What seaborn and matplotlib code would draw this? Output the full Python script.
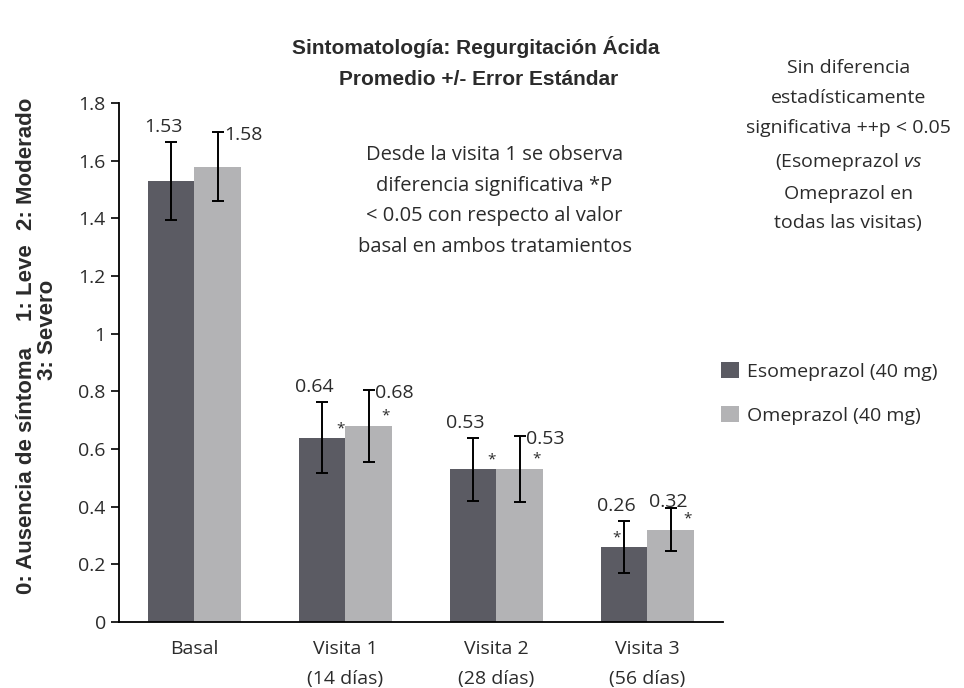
import pandas as pd
import matplotlib.pyplot as plt
import seaborn as sns
from matplotlib.ticker import FixedLocator, FuncFormatter

# Datos
visitas = ["Basal", "Visita 1\n(14 días)", "Visita 2\n(28 días)", "Visita 3\n(56 días)"]
tratamientos = ["Esomeprazol (40 mg)", "Omeprazol (40 mg)"]
esomeprazol = [1.53, 0.64, 0.53, 0.26]
omeprazol = [1.58, 0.68, 0.53, 0.32]
err_esomeprazol = [0.135, 0.123, 0.11, 0.09]
err_omeprazol = [0.12, 0.125, 0.115, 0.075]
significativo = [False, True, True, True]

df = pd.DataFrame({
    "Visita": visitas * 2,
    "Tratamiento": [tratamientos[0]] * 4 + [tratamientos[1]] * 4,
    "Valor": esomeprazol + omeprazol,
})

sns.set_style("white")
plt.rcParams["font.family"] = ["Open Sans", "DejaVu Sans"]
plt.rcParams["mathtext.fontset"] = "custom"
plt.rcParams["mathtext.it"] = "Open Sans:italic"
plt.rcParams["mathtext.rm"] = "Open Sans"
color_txt = "#2b2b2b"
colores = ["#5b5b63", "#b3b3b5"]
fs = 14

fig = plt.figure(figsize=(9.64, 6.88), dpi=100)
ax = fig.add_axes([0.1234, 0.096, 0.6266, 0.754])

sns.barplot(data=df, x="Visita", y="Valor", hue="Tratamiento", palette=colores,
            errorbar=None, width=0.62, saturation=1, linewidth=0, ax=ax, legend=True)

errores = [err_esomeprazol, err_omeprazol]
valores = [esomeprazol, omeprazol]
contenedores = list(ax.containers)
for k, cont in enumerate(contenedores):
    for i, bar in enumerate(cont.patches):
        xc = bar.get_x() + bar.get_width() / 2
        v = valores[k][i]
        e = errores[k][i]
        ax.errorbar(xc, v, yerr=e, fmt="none", ecolor="black", elinewidth=1.4,
                    capsize=4, capthick=1.4)
        if k == 0:
            ax.text(xc - 0.05, v + e + 0.02, f"{v:.2f}", ha="center", va="bottom",
                    fontsize=fs, color=color_txt)
            if significativo[i]:
                dx = 0.12 if i < 3 else -0.05
                ax.text(xc + dx, v + 0.005, "*", ha="center", va="bottom",
                        fontsize=11, color=color_txt)
        else:
            if i < 3:
                ax.text(xc + 0.04, v + e - 0.01, f"{v:.2f}", ha="left", va="center",
                        fontsize=fs, color=color_txt)
            else:
                ax.text(xc - 0.02, v + e - 0.01, f"{v:.2f}", ha="center", va="bottom",
                        fontsize=fs, color=color_txt)
            if significativo[i]:
                ax.text(xc + 0.11, v + 0.01, "*", ha="center", va="bottom",
                        fontsize=11, color=color_txt)

ax.set_xlim(-0.5, 3.5)
ax.set_ylim(0, 1.8)
ax.yaxis.set_major_locator(FixedLocator([0, 0.2, 0.4, 0.6, 0.8, 1, 1.2, 1.4, 1.6, 1.8]))
ax.yaxis.set_major_formatter(FuncFormatter(lambda y, p: f"{y:g}"))
ax.xaxis.set_minor_locator(FixedLocator([-0.5, 0.5, 1.5, 2.5, 3.5]))
ax.tick_params(axis="x", which="major", length=0, pad=13, labelsize=fs, labelcolor=color_txt)
ax.tick_params(axis="x", which="minor", length=6, width=1.2, direction="out", color="black")
ax.tick_params(axis="y", length=6, width=1.2, direction="out", left=True, labelsize=fs,
               labelcolor=color_txt, color="black")
for t in ax.get_xticklabels():
    t.set_linespacing(1.85)
    t.set_verticalalignment("top")
ax.set_xlabel("")
ax.set_ylabel("")
sns.despine(ax=ax)
for s in ["left", "bottom"]:
    ax.spines[s].set_color("black")
    ax.spines[s].set_linewidth(1.3)

ax.legend(loc="center left", bbox_to_anchor=(0.968, 0.44), frameon=False, fontsize=fs,
          handlelength=0.9, handleheight=0.9, handletextpad=0.45, labelspacing=1.3,
          labelcolor=color_txt)

# Títulos y ejes
titulo = ["Liberation Sans", "DejaVu Sans"]
fig.text(0.493, 0.932, "Sintomatología: Regurgitación Ácida", ha="center", va="center",
         fontsize=15, fontweight="bold", color=color_txt, family=titulo)
fig.text(0.497, 0.884, "Promedio +/- Error Estándar", ha="center", va="center",
         fontsize=15, fontweight="bold", color=color_txt, family=titulo)
fig.text(0.027, 1 - 470 / 688, "0: Ausencia de síntoma", rotation=90, ha="center", va="center",
         fontsize=16, fontweight="bold", color=color_txt, family=titulo)
fig.text(0.027, 1 - 283 / 688, "1: Leve", rotation=90, ha="center", va="center",
         fontsize=16, fontweight="bold", color=color_txt, family=titulo)
fig.text(0.027, 1 - 164 / 688, "2: Moderado", rotation=90, ha="center", va="center",
         fontsize=16, fontweight="bold", color=color_txt, family=titulo)
fig.text(0.049, 1 - 330 / 688, "3: Severo", rotation=90, ha="center", va="center",
         fontsize=16, fontweight="bold", color=color_txt, family=titulo)

# Notas
fig.text(0.513, 0.708, "Desde la visita 1 se observa\ndiferencia significativa *P\n"
         "< 0.05 con respecto al valor\nbasal en ambos tratamientos",
         ha="center", va="center", fontsize=14.5, color=color_txt, linespacing=1.7)
fig.text(0.88, 0.788, "Sin diferencia\nestadísticamente\nsignificativa ++p < 0.05\n"
         "(Esomeprazol $\\it{vs}$\nOmeprazol en\ntodas las visitas)",
         ha="center", va="center", fontsize=fs, color=color_txt, linespacing=1.85)

fig.savefig("out.png", dpi=100)
